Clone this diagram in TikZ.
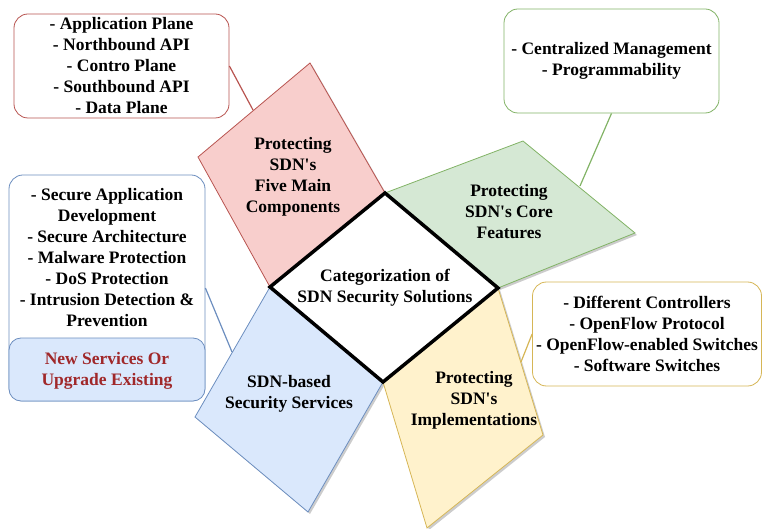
\documentclass[tikz,border=0pt]{standalone}
\usepackage{fontspec}
\setmainfont{Liberation Serif}[Ligatures=TeXOff]
\definecolor{redfill}{HTML}{F8CECC}\definecolor{redline}{HTML}{B85450}
\definecolor{greenfill}{HTML}{D5E8D4}\definecolor{greenline}{HTML}{82B366}
\definecolor{yellowfill}{HTML}{FFF2CC}\definecolor{yellowline}{HTML}{D6B656}
\definecolor{bluefill}{HTML}{DAE8FC}\definecolor{blueline}{HTML}{6C8EBF}
\definecolor{darkred}{RGB}{160,40,42}
\begin{document}
\begin{tikzpicture}[x=1bp,y=-1bp,
  txt/.style={font=\bfseries\fontsize{17.5bp}{21bp}\selectfont,align=center,inner sep=0pt},
  infobox/.style={txt,draw,line width=0.8bp,rounded corners=14bp,fill=white},
  quad/.style={line width=0.8bp},
  shade/.style={fill=black,opacity=0.2},
  link/.style={line width=1.2bp}]
\useasboundingbox (0,0) rectangle (763,529);
% shadows
\foreach \p in {{(198,157)--(310,63)--(385,193)--(270,287)},
                {(385,193)--(523,141)--(635,233)--(498,288)},
                {(498,288)--(543,435)--(427,528)--(383,382)},
                {(270,287)--(383,382)--(308,512)--(195,417)}}
  {\fill[shade,shift={(2,2)}] \p -- cycle;}
% coloured quads
\draw[quad,fill=redfill,draw=redline] (198,157)--(310,63)--(385,193)--(270,287)--cycle;
\draw[quad,fill=greenfill,draw=greenline] (385,193)--(523,141)--(635,233)--(498,288)--cycle;
\draw[quad,fill=yellowfill,draw=yellowline] (498,288)--(543,435)--(427,528)--(383,382)--cycle;
\draw[quad,fill=bluefill,draw=blueline] (270,287)--(383,382)--(308,512)--(195,417)--cycle;
% centre
\draw[line width=3.5bp,fill=white,line join=miter] (385,193)--(498,288)--(383,382)--(270,287)--cycle;
\node[txt] (center) at (385,288) {Categorization of\\SDN Security Solutions};
\node[txt] (five) at (293,177) {Protecting\\SDN's\\Five Main\\Components};
\node[txt] (core) at (509,212) {Protecting\\SDN's Core\\Features};
\node[txt] (impl) at (474,400) {Protecting\\SDN's\\Implementations};
\node[txt] (serv) at (289,394) {SDN-based\\Security Services};
% info boxes
\node[infobox,draw=redline,minimum width=215bp,minimum height=104bp] (redbox) at (121.5,66)
  {- Application Plane\\- Northbound API\\- Contro Plane\\- Southbound API\\- Data Plane};
\node[infobox,draw=greenline,minimum width=215bp,minimum height=104bp] (greenbox) at (611.5,61)
  {- Centralized Management\\- Programmability};
\node[infobox,draw=yellowline,minimum width=229bp,minimum height=104bp] (yellowbox) at (647,334)
  {- Different Controllers\\- OpenFlow Protocol\\- OpenFlow-enabled Switches\\- Software Switches};
\node[infobox,draw=blueline,minimum width=196bp,minimum height=226bp] (bluebox) at (107,288) {};
\node[infobox,draw=blueline,fill=bluefill,minimum width=196bp,minimum height=63bp,rounded corners=12bp] (bluelow) at (107,369.5) {};
\node[txt] (bluetext) at (107,258) {- Secure Application\\Development\\- Secure Architecture\\- Malware Protection\\- DoS Protection\\- Intrusion Detection \&\\Prevention};
\node[txt,text=darkred] (newserv) at (107,371) {New Services Or\\Upgrade Existing};
% connectors
\coordinate (redend) at (253,110);
\coordinate (greenend) at (580,186);
\coordinate (blueend) at (232,352);
\coordinate (yellowend) at (521,362);
\draw[link,redline] (redbox.east) -- (redend);
\draw[link,greenline] (greenbox.south) -- (greenend);
\draw[link,blueline] (bluebox.east) -- (blueend);
\draw[link,yellowline] (yellowbox.west) -- (yellowend);
\end{tikzpicture}
\end{document}
